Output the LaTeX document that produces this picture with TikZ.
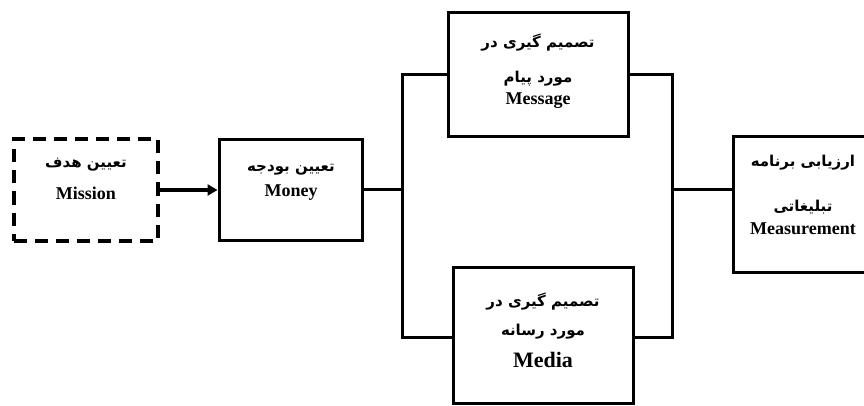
\documentclass[tikz,border=0pt]{standalone}
\usepackage{fontspec}
\setmainfont{Liberation Serif}
\newfontfamily\fa[Script=Arabic]{DejaVu Sans}
\TeXXeTstate=1
\usetikzlibrary{arrows.meta}
\begin{document}
\begin{tikzpicture}[x=1pt,y=-1pt,line join=miter,
  box/.style={draw, line width=3pt, inner sep=0pt},
  dbox/.style={box, line width=4pt, dash pattern=on 13pt off 8pt},
  lat/.style={font=\bfseries\fontsize{18}{18}\selectfont, inner sep=0pt},
  big/.style={font=\bfseries\fontsize{22}{22}\selectfont, inner sep=0pt},
  per/.style={font=\fa\bfseries\fontsize{15}{15}\selectfont, inner sep=0pt},
  wire/.style={line width=3pt}]
\useasboundingbox (0,0) rectangle (864,406);
\clip (0,0) rectangle (864,406);
% boxes
\node[dbox, minimum width=144pt, minimum height=101pt] (mission) at (86,190) {};
\node[box, minimum width=143pt, minimum height=101pt] (money) at (290.5,190) {};
\node[box, minimum width=180pt, minimum height=124pt] (message) at (538,75) {};
\node[box, minimum width=180pt, minimum height=136pt] (media) at (543,335) {};
\node[box, minimum width=140pt, minimum height=135pt] (meas) at (803,204.5) {};
% texts
\node[per] (t1a) at (86,165) {\beginR تعیین هدف\endR};
\node[lat] (t1b) at (86,193) {Mission};
\node[per] (t2a) at (291,170) {\beginR تعیین بودجه\endR};
\node[lat] (t2b) at (291,193) {Money};
\node[per] (t3a) at (538,43) {\beginR تصمیم گیری در\endR};
\node[per] (t3b) at (538,79) {\beginR مورد پیام\endR};
\node[lat] (t3c) at (538,101) {Message};
\node[per] (t4a) at (543,302) {\beginR تصمیم گیری در\endR};
\node[per] (t4b) at (543,332) {\beginR مورد رسانه\endR};
\node[big] (t4c) at (543,360) {Media};
\node[per] (t5a) at (803,163) {\beginR ارزیابی برنامه\endR};
\node[per] (t5b) at (803,207) {\beginR تبلیغاتی\endR};
\node[lat] (t5c) at (803,229) {Measurement};
% connectors
\draw[line width=4.5pt, -{Triangle[length=10pt,width=11pt]}] (mission.east) -- (money.west);
\coordinate (lb1) at (402,75);
\coordinate (lb2) at (402,337);
\coordinate (lm) at (402,190);
\coordinate (rb1) at (672,75);
\coordinate (rb2) at (672,337);
\coordinate (rm) at (672,190);
\draw[wire] (money.east) -- (lm);
\draw[wire] (message.west) -- (lb1) -- (lb2) -- (lb2 -| media.west);
\draw[wire] (message.east) -- (rb1) -- (rb2) -- (rb2 -| media.east);
\draw[wire] (rm) -- (rm -| meas.west);
\end{tikzpicture}
\end{document}
